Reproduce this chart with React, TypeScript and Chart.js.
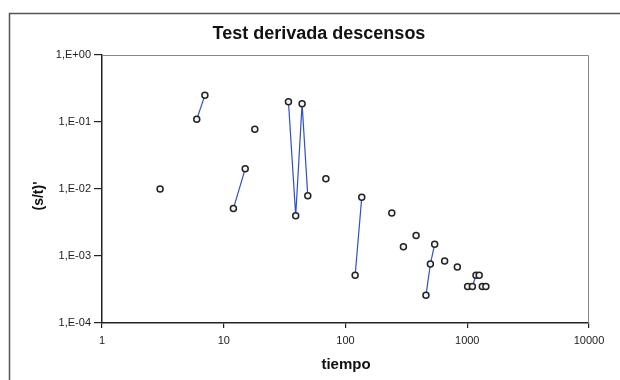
import React, { useEffect, useRef } from "react";
import { Chart, registerables } from "chart.js";

Chart.register(...registerables);

// Measured time (tiempo) and drawdown derivative (s/t)'
const tiempo = [3, 6, 7, 12, 15, 18, 34, 39, 44, 49, 69, 120, 136, 240, 299, 380, 458, 498, 540, 652, 829, 1007, 1102, 1180, 1253, 1330, 1422];
const derivada = [0.01, 0.11, 0.25, 0.0051, 0.02, 0.078, 0.2, 0.004, 0.187, 0.0079, 0.0142, 0.000515, 0.00755, 0.0044, 0.00137, 0.00202, 0.000259, 0.00076, 0.0015, 0.000845, 0.000687, 0.00035, 0.00035, 0.000515, 0.000515, 0.00035, 0.00035];

// Runs of consecutive points joined by a line: [first index, last index]
const tramos: [number, number][] = [[1, 2], [3, 4], [6, 9], [11, 12], [16, 18], [22, 23]];

// Axis ticks and their labels
const xTicks = [1, 10, 100, 1000, 10000];
const xTickLabels = ["1", "10", "100", "1000", "10000"];
const yTicks = [1e-4, 1e-3, 1e-2, 1e-1, 1];
const yTickLabels = ["1,E-04", "1,E-03", "1,E-02", "1,E-01", "1,E+00"];

const titulo = "Test derivada descensos";
const tituloX = "tiempo";
const tituloY = "(s/t)'";

const FONT = "'Liberation Sans', Arial, sans-serif";

const textPlugin = {
  id: "textos",
  afterDraw(chart: any) {
    const { ctx, chartArea } = chart;
    ctx.save();
    // outer chart frame
    ctx.strokeStyle = "#555";
    ctx.lineWidth = 1.5;
    ctx.beginPath();
    ctx.moveTo(9.5, 380);
    ctx.lineTo(9.5, 13.5);
    ctx.lineTo(620, 13.5);
    ctx.stroke();
    // plot area top/right edges
    ctx.strokeStyle = "#888";
    ctx.lineWidth = 1;
    ctx.beginPath();
    ctx.moveTo(chartArea.left, chartArea.top + 0.5);
    ctx.lineTo(chartArea.right - 0.5, chartArea.top + 0.5);
    ctx.lineTo(chartArea.right - 0.5, chartArea.bottom);
    ctx.stroke();

    ctx.fillStyle = "#111";
    ctx.textAlign = "center";
    ctx.textBaseline = "middle";
    ctx.font = `bold 18px ${FONT}`;
    ctx.fillText(titulo, 319, 34);
    ctx.font = `bold 15px ${FONT}`;
    ctx.fillText(tituloX, 346, 365);
    ctx.translate(39, 196);
    ctx.rotate(-Math.PI / 2);
    ctx.font = `bold 14px ${FONT}`;
    ctx.fillText(tituloY, 0, 0);
    ctx.restore();
  },
};

export default function App() {
  const ref = useRef<HTMLCanvasElement>(null);

  useEffect(() => {
    if (!ref.current) return;
    const puntos = tiempo.map((t, i) => ({ x: t, y: derivada[i] }));
    const lineas = tramos.map(([a, b]) => ({
      data: puntos.slice(a, b + 1),
      showLine: true,
      borderColor: "#3050c8",
      borderWidth: 1.2,
      pointRadius: 0,
    }));

    const chart = new Chart(ref.current, {
      type: "scatter",
      data: {
        datasets: [
          {
            data: puntos,
            showLine: false,
            pointRadius: 3,
            pointBorderWidth: 1.5,
            pointBorderColor: "#222",
            pointBackgroundColor: "#f4f4f4",
          },
          ...lineas,
        ],
      },
      plugins: [textPlugin],
      options: {
        animation: false,
        responsive: false,
        layout: { padding: { top: 55, right: 31, bottom: 0, left: 0 } },
        plugins: { legend: { display: false }, tooltip: { enabled: false }, title: { display: false } },
        scales: {
          x: {
            type: "logarithmic",
            min: 1,
            max: 10000,
            afterBuildTicks: (s: any) => {
              s.ticks = xTicks.map((v) => ({ value: v }));
            },
            afterFit: (s: any) => {
              s.height = 57;
            },
            ticks: {
              autoSkip: false,
              maxRotation: 0,
              padding: 6,
              color: "#222",
              font: { family: FONT, size: 11 },
              callback: (_v: any, i: number) => xTickLabels[i],
            },
            grid: { drawOnChartArea: false, drawTicks: true, tickLength: 5, color: "#222", lineWidth: 1.2 },
            border: { display: true, color: "#222", width: 1.5 },
          },
          y: {
            type: "logarithmic",
            min: 1e-4,
            max: 1,
            afterBuildTicks: (s: any) => {
              s.ticks = yTicks.map((v) => ({ value: v }));
            },
            afterFit: (s: any) => {
              s.width = 102;
            },
            ticks: {
              autoSkip: false,
              padding: 3,
              color: "#222",
              font: { family: FONT, size: 11 },
              callback: (_v: any, i: number) => yTickLabels[i],
            },
            grid: { drawOnChartArea: false, drawTicks: true, tickLength: 8, color: "#222", lineWidth: 1.2 },
            border: { display: true, color: "#222", width: 1.5 },
          },
        },
      },
    });
    return () => chart.destroy();
  }, []);

  return (
    <div style={{ position: "absolute", left: 0, top: 0, width: 620, height: 380, background: "#fff" }}>
      <canvas ref={ref} width={620} height={380} style={{ display: "block" }} />
    </div>
  );
}
